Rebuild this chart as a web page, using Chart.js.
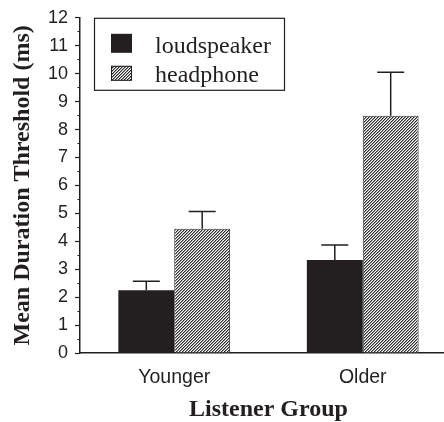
<!DOCTYPE html>
<html>
<head>
<meta charset="utf-8">
<script src="https://cdn.jsdelivr.net/npm/chart.js@4.4.1/dist/chart.umd.min.js"></script>
<style>
  html, body { margin: 0; padding: 0; background: #fff; overflow: hidden; }
  #wrap { width: 460px; height: 422px; position: relative; }
</style>
</head>
<body>
<div id="wrap"><canvas id="chart"></canvas></div>
<script>
// data
const groups = ['Younger', 'Older'];
const seriesNames = ['loudspeaker', 'headphone'];
const loudspeaker = [2.25, 3.33];
const loudspeakerErr = [0.32, 0.54];
const headphone = [4.45, 8.49];
const headphoneErr = [0.62, 1.56];
const yMin = 0;
const yMax = 12;

const ink = '#231f20';
const canvas = document.getElementById('chart');
const ctx = canvas.getContext('2d');

// diagonal hatch for the headphone bars
function makeHatch() {
    const c = document.createElement('canvas');
    c.width = 3; c.height = 3;
    const g = c.getContext('2d');
    g.fillStyle = '#fff';
    g.fillRect(0, 0, 3, 3);
    g.fillStyle = '#2a2a2a';
    for (let i = 0; i < 3; i++) g.fillRect(i, 2 - i, 1, 1);
    g.fillStyle = '#9a9a9a';
    for (let i = 0; i < 3; i++) g.fillRect(i, (3 - i) % 3, 1, 1);
    return ctx.createPattern(c, 'repeat');
}
const hatch = makeHatch();

// upward error bars, drawn from the top of each bar
const errorBars = {
    id: 'errorBars',
    afterDatasetsDraw(chart) {
        const c = chart.ctx;
        const y = chart.scales.y;
        c.save();
        c.strokeStyle = ink;
        c.lineWidth = 1.5;
        chart.data.datasets.forEach((ds, di) => {
            const meta = chart.getDatasetMeta(di);
            meta.data.forEach((bar, i) => {
                const top = y.getPixelForValue(ds.data[i] + ds.errors[i]);
                c.beginPath();
                c.moveTo(bar.x, bar.y);
                c.lineTo(bar.x, top);
                c.moveTo(bar.x - 13.5, top);
                c.lineTo(bar.x + 13.5, top);
                c.stroke();
            });
        });
        c.restore();
    }
};

// boxed legend inside the plot, top left
const boxLegend = {
    id: 'boxLegend',
    afterDraw(chart) {
        const c = chart.ctx;
        const a = chart.chartArea;
        const x0 = a.left + 14, y0 = a.top;
        c.save();
        c.strokeStyle = ink;
        c.lineWidth = 1.2;
        c.strokeRect(x0 + 0.5, y0 + 0.5, 190, 72);
        const rows = [{ y: y0 + 16, h: 19, base: y0 + 35 }, { y: y0 + 48, h: 15, base: y0 + 64 }];
        chart.data.datasets.forEach((ds, i) => {
            const r = rows[i];
            c.fillStyle = ds.backgroundColor;
            c.fillRect(x0 + 17, r.y, 21, r.h);
            if (ds.borderWidth) {
                c.strokeStyle = ink;
                c.lineWidth = 1;
                c.strokeRect(x0 + 17.5, r.y + 0.5, 20, r.h - 1);
            }
            c.fillStyle = ink;
            c.font = '24px "Liberation Serif", "Times New Roman", serif';
            c.textBaseline = 'alphabetic';
            c.fillText(ds.label, x0 + 61, r.base);
        });
        c.restore();
    }
};

new Chart(ctx, {
    type: 'bar',
    data: {
        labels: groups,
        datasets: [{
            label: seriesNames[0],
            data: loudspeaker,
            errors: loudspeakerErr,
            backgroundColor: ink,
            borderWidth: 0
        }, {
            label: seriesNames[1],
            data: headphone,
            errors: headphoneErr,
            backgroundColor: hatch,
            borderColor: '#333',
            borderWidth: 1
        }]
    },
    options: {
        responsive: true,
        maintainAspectRatio: false,
        animation: false,
        devicePixelRatio: 1,
        layout: { padding: { top: 17, right: 3, bottom: 0, left: 0 } },
        datasets: { bar: { categoryPercentage: 0.593, barPercentage: 1 } },
        plugins: {
            legend: { display: false },
            tooltip: { enabled: false }
        },
        scales: {
            x: {
                grid: { display: false, drawTicks: false },
                border: { display: true, color: ink, width: 1.5 },
                ticks: {
                    color: ink,
                    padding: 13,
                    font: { family: '"Liberation Sans", Arial, sans-serif', size: 19.5 }
                },
                title: {
                    display: true,
                    text: 'Listener Group',
                    color: ink,
                    padding: { top: 0, bottom: 0 },
                    font: { family: '"Liberation Serif", "Times New Roman", serif', size: 24, weight: 'bold', lineHeight: 1 }
                },
                afterFit(s) { s.height = 69; }
            },
            y: {
                min: yMin,
                max: yMax,
                grid: {
                    drawOnChartArea: false,
                    drawTicks: true,
                    tickLength: 5,
                    tickColor: ink,
                    tickWidth: 1.2,
                    tickBorderDash: (ctx) => Number.isInteger(ctx.tick && ctx.tick.value) ? [] : [2.5, 2.5],
                    tickBorderDashOffset: (ctx) => Number.isInteger(ctx.tick && ctx.tick.value) ? 0 : 2.5
                },
                border: { display: true, color: ink, width: 1.5 },
                ticks: {
                    stepSize: 0.5,
                    autoSkip: false,
                    minRotation: 0,
                    maxRotation: 0,
                    color: ink,
                    padding: 7,
                    font: { family: '"Liberation Sans", Arial, sans-serif', size: 18 },
                    callback: (v) => Number.isInteger(v) ? String(v) : ''
                },
                title: {
                    display: true,
                    text: 'Mean Duration Threshold (ms)',
                    color: ink,
                    padding: { top: 11, bottom: 0 },
                    font: { family: '"Liberation Serif", "Times New Roman", serif', size: 24, weight: 'bold', lineHeight: 1 }
                },
                afterFit(s) { s.width = 80; }
            }
        }
    },
    plugins: [errorBars, boxLegend]
});
</script>
</body>
</html>
